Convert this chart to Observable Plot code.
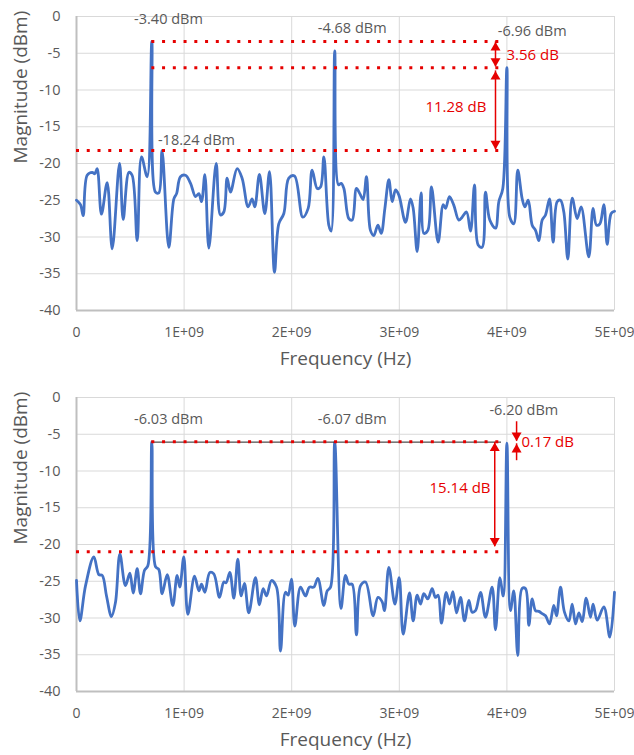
<!DOCTYPE html>
<html><head><meta charset="utf-8">
<script src="https://cdn.jsdelivr.net/npm/d3@7"></script>
<script src="https://cdn.jsdelivr.net/npm/@observablehq/plot@0.6"></script>
<style>
body{margin:0;background:#fff;}
#wrap{width:634px;height:755px;}
#wrap svg{display:block;}
</style></head><body><div id="wrap"></div>
<script>
// ---- axes ----
const xTicks = [0, 1e9, 2e9, 3e9, 4e9, 5e9];
const xTickLabels = ["0", "1E+09", "2E+09", "3E+09", "4E+09", "5E+09"];
const yTicks = [0, -5, -10, -15, -20, -25, -30, -35, -40];
const xTitle = "Frequency (Hz)";
const yTitle = "Magnitude (dBm)";

// ---- top panel spectrum (frequency in GHz, magnitude in dBm) ----
const topFreqGHz = [0,0.037,0.062,0.099,0.146,0.17,0.192,0.232,0.285,0.332,0.4,0.434,0.487,0.517,0.564,0.604,0.657,0.7,0.734,0.765,0.795,0.858,0.905,0.93,0.966,1.013,1.06,1.106,1.137,1.162,1.193,1.23,1.298,1.338,1.369,1.4,1.431,1.493,1.539,1.595,1.632,1.657,1.7,1.75,1.794,1.84,1.88,1.927,1.973,2.026,2.103,2.153,2.19,2.237,2.268,2.299,2.345,2.367,2.4,2.435,2.46,2.485,2.531,2.562,2.602,2.633,2.664,2.695,2.732,2.763,2.801,2.832,2.866,2.903,2.934,2.965,2.996,3.058,3.104,3.129,3.166,3.203,3.228,3.265,3.299,3.361,3.408,3.43,3.466,3.507,3.553,3.584,3.625,3.662,3.699,3.733,3.77,3.801,3.841,3.894,3.925,3.962,4.0,4.027,4.064,4.101,4.142,4.167,4.198,4.235,4.266,4.297,4.328,4.359,4.396,4.43,4.467,4.498,4.529,4.566,4.607,4.653,4.69,4.761,4.801,4.833,4.864,4.901,4.932,4.969,5.0];
const topDbm = [-25.0,-25.6,-27.1,-21.6,-21.2,-21.4,-20.7,-26.9,-22.6,-31.6,-20.0,-27.6,-21.2,-21.6,-30.5,-19.1,-21.8,-3.40,-23.9,-24.0,-18.24,-31.4,-24.8,-24.1,-21.8,-21.6,-22.7,-24.5,-24.1,-25.2,-21.5,-31.5,-20.0,-27.0,-26.6,-22.0,-23.9,-20.7,-22.0,-25.9,-24.8,-25.9,-21.5,-26.8,-21.1,-34.8,-28.2,-26.8,-22.0,-21.7,-27.3,-26.1,-20.9,-23.4,-23.2,-19.1,-28.4,-29.2,-4.68,-22.9,-22.7,-23.4,-27.5,-27.7,-23.4,-24.1,-24.9,-21.8,-29.1,-29.8,-28.4,-29.5,-26.1,-22.2,-25.2,-23.6,-24.3,-28.0,-24.8,-26.1,-32.0,-24.0,-29.5,-29.1,-23.2,-30.7,-25.6,-26.1,-24.5,-25.7,-27.7,-27.3,-26.6,-29.2,-22.9,-31.1,-31.4,-23.9,-27.7,-28.8,-25.2,-23.4,-6.96,-27.3,-28.2,-20.9,-24.8,-25.9,-25.0,-28.4,-29.1,-30.5,-27.7,-27.0,-24.8,-30.7,-25.2,-25.0,-26.6,-33.0,-24.7,-27.5,-25.9,-32.7,-26.1,-28.4,-28.2,-25.6,-31.0,-26.8,-26.5];

// ---- bottom panel spectrum ----
const botFreqGHz = [0,0.031,0.084,0.161,0.208,0.239,0.279,0.325,0.362,0.403,0.455,0.496,0.527,0.564,0.595,0.632,0.663,0.7,0.734,0.765,0.796,0.843,0.895,0.935,0.96,0.997,1.035,1.097,1.137,1.162,1.193,1.239,1.276,1.329,1.369,1.39,1.425,1.462,1.499,1.53,1.561,1.601,1.663,1.7,1.735,1.766,1.812,1.859,1.896,1.942,1.967,1.998,2.029,2.082,2.128,2.165,2.205,2.243,2.299,2.33,2.361,2.4,2.458,2.5,2.531,2.562,2.602,2.64,2.686,2.757,2.801,2.841,2.862,2.903,2.959,2.999,3.036,3.095,3.129,3.166,3.197,3.228,3.265,3.305,3.336,3.361,3.392,3.436,3.467,3.498,3.532,3.569,3.606,3.646,3.677,3.708,3.755,3.801,3.863,3.894,3.935,3.966,4.0,4.033,4.064,4.101,4.141,4.173,4.204,4.235,4.266,4.297,4.328,4.359,4.396,4.436,4.461,4.498,4.535,4.576,4.607,4.638,4.669,4.7,4.737,4.777,4.801,4.839,4.901,4.957,5.0];
const botDbm = [-24.9,-30.4,-25.6,-21.7,-24.1,-24.2,-27.0,-29.8,-27.9,-21.3,-25.6,-23.9,-26.6,-23.3,-26.7,-23.5,-22.9,-6.03,-23.0,-23.4,-26.7,-24.1,-28.3,-24.2,-25.8,-21.7,-29.5,-24.3,-26.3,-25.4,-26.5,-23.8,-24.0,-27.2,-25.1,-25.2,-23.8,-27.3,-22.0,-27.0,-25.3,-29.3,-24.5,-28.2,-26.0,-27.0,-24.9,-25.8,-34.5,-26.5,-26.9,-24.7,-31.1,-25.8,-27.0,-25.8,-25.8,-24.6,-28.3,-26.3,-25.8,-6.07,-28.7,-24.2,-25.4,-25.4,-32.3,-25.6,-25.1,-29.7,-27.2,-27.8,-29.0,-23.1,-28.1,-24.5,-32.2,-26.6,-30.4,-26.9,-28.1,-26.7,-27.4,-26.0,-27.2,-26.9,-30.7,-26.5,-28.1,-26.4,-29.3,-27.2,-30.4,-27.6,-29.2,-29.0,-26.5,-29.9,-25.8,-31.6,-24.5,-27.0,-6.20,-29.0,-26.3,-35.1,-26.0,-26.0,-31.0,-27.4,-29.0,-29.1,-29.4,-29.7,-30.8,-28.3,-29.7,-25.8,-29.2,-30.4,-28.1,-30.8,-29.3,-30.5,-27.3,-29.9,-28.1,-30.3,-28.5,-32.6,-26.5];

// ---- annotations: reference levels (dBm, from GHz, to GHz) ----
const topLevelDbm = [-3.40, -6.96, -18.24];
const topLevelFromGHz = [0.7, 0.7, 0];
const topLevelToGHz = [3.94, 3.94, 3.94];
const botLevelDbm = [-6.03, -21.0];
const botLevelFromGHz = [0.7, 0];
const botLevelToGHz = [3.94, 3.94];
const botSolidDbm = -6.07;            // thin black line under the dotted one
const botSolidGHz = [0.7, 3.95];

// peak labels
const topPeakText = ["-3.40 dBm", "-4.68 dBm", "-6.96 dBm", "-18.24 dBm"];
const topPeakGHz = [0.855, 2.562, 4.235, 1.115];
const topPeakDbm = [-0.4, -1.6, -2.05, -16.9];
const botPeakText = ["-6.03 dBm", "-6.07 dBm", "-6.20 dBm"];
const botPeakGHz = [0.855, 2.562, 4.157];
const botPeakDbm = [-3.0, -3.0, -1.75];

// difference arrows: [GHz, from dBm, to dBm] with heads at both ends
const topArrowGHz = [3.894, 3.894];
const topArrowFrom = [-3.45, -7.4];
const topArrowTo = [-6.85, -18.1];
const botArrowGHz = [3.887];
const botArrowFrom = [-6.1];
const botArrowTo = [-20.3];
// inward pointing arrows (0.17 dB)
const botInGHz = 4.09;
const botInDown = [-3.3, -5.95];
const botInUp = [-8.6, -6.3];

// difference labels
const topDiffText = ["3.56 dB", "11.28 dB"];
const topDiffGHz = [3.996, 3.81];
const topDiffDbm = [-5.2, -12.4];
const topDiffAnchor = ["start", "end"];
const botDiffText = ["15.14 dB", "0.17 dB"];
const botDiffGHz = [3.848, 4.136];
const botDiffDbm = [-12.4, -6.05];
const botDiffAnchor = ["end", "start"];

const RED = "#e60000";
const GRAY = "#595959";
const BLUE = "#4472c4";

function panel(cfg) {
  const series = cfg.freq.map((f, i) => ({f: f * 1e9, v: cfg.dbm[i]}));
  const levels = cfg.levels.map((y, i) => ({y, x1: cfg.from[i] * 1e9, x2: cfg.to[i] * 1e9}));
  const peaks = cfg.peakText.map((t, i) => ({t, x: cfg.peakGHz[i] * 1e9, y: cfg.peakDbm[i]}));
  const diffs = cfg.diffText.map((t, i) => ({t, x: cfg.diffGHz[i] * 1e9, y: cfg.diffDbm[i], a: cfg.diffAnchor[i]}));
  const rules = [];
  const ups = [];
  const downs = [];
  cfg.arrowGHz.forEach((g, i) => {
    rules.push({x: g * 1e9, y1: cfg.arrowFrom[i], y2: cfg.arrowTo[i]});
    ups.push({x: g * 1e9, y: cfg.arrowFrom[i]});
    downs.push({x: g * 1e9, y: cfg.arrowTo[i]});
  });
  if (cfg.inGHz != null) {
    rules.push({x: cfg.inGHz * 1e9, y1: cfg.inDown[0], y2: cfg.inDown[1]});
    downs.push({x: cfg.inGHz * 1e9, y: cfg.inDown[1]});
    rules.push({x: cfg.inGHz * 1e9, y1: cfg.inUp[0], y2: cfg.inUp[1]});
    ups.push({x: cfg.inGHz * 1e9, y: cfg.inUp[1]});
  }
  const marks = [
    Plot.gridX(xTicks, {stroke: "#d9d9d9", strokeOpacity: 1, strokeWidth: 1}),
    Plot.gridY(yTicks, {stroke: "#d9d9d9", strokeOpacity: 1, strokeWidth: 1}),
    Plot.ruleX([0], {stroke: "#bfbfbf", strokeWidth: 2}),
    Plot.ruleY([-40], {stroke: "#bfbfbf", strokeWidth: 2}),
    Plot.axisX({ticks: xTicks, tickSize: 0, tickPadding: 17, label: null, fontSize: 14,
      tickFormat: d => xTickLabels[xTicks.indexOf(d)]}),
    Plot.axisY({ticks: yTicks, tickSize: 0, tickPadding: 16, label: null, fontSize: 14.5,
      tickFormat: d => String(d)}),
    Plot.text([yTitle], {text: d => d, frameAnchor: "left", rotate: -90, dx: -56, fontSize: 19, fill: GRAY}),
    Plot.text([xTitle], {text: d => d, frameAnchor: "bottom", dy: 54, fontSize: 19, fill: GRAY}),
    Plot.line(series, {x: "f", y: "v", stroke: BLUE, strokeWidth: 2.8, curve: "catmull-rom"})
  ];
  if (cfg.solid) {
    marks.push(Plot.ruleY([cfg.solid.y], {x1: cfg.solid.x[0] * 1e9, x2: cfg.solid.x[1] * 1e9, stroke: "#222", strokeWidth: 1}));
  }
  marks.push(
    Plot.ruleY(levels, {y: "y", x1: "x1", x2: "x2", stroke: RED, strokeWidth: 3, strokeDasharray: "3,7.75"}),
    Plot.ruleX(rules, {x: "x", y1: "y1", y2: "y2", stroke: RED, strokeWidth: 1.5}),
    Plot.dot(ups, {x: "x", y: "y", symbol: "triangle", r: 3.7, fill: RED, stroke: null, dy: 5.8}),
    Plot.dot(downs, {x: "x", y: "y", symbol: "triangle", r: 3.7, fill: RED, stroke: null, rotate: 180, dy: -5.8}),
    Plot.text(peaks, {x: "x", y: "y", text: "t", fill: GRAY, fontSize: 14.5}),
    Plot.text(diffs.filter(d => d.a === "start"), {x: "x", y: "y", text: "t", textAnchor: "start", fill: RED, fontSize: 15}),
    Plot.text(diffs.filter(d => d.a === "end"), {x: "x", y: "y", text: "t", textAnchor: "end", fill: RED, fontSize: 15})
  );
  return Plot.plot({
    width: 634,
    height: cfg.height,
    marginLeft: 76,
    marginRight: 20,
    marginTop: cfg.mt,
    marginBottom: cfg.mb,
    x: {type: "linear", domain: [0, 5e9]},
    y: {type: "linear", domain: [-40, 0]},
    style: {fontFamily: "'Open Sans', sans-serif", fontSize: "14px", color: GRAY, background: "#fff"},
    marks
  });
}

const wrap = document.getElementById("wrap");
wrap.appendChild(panel({
  height: 377, mt: 16, mb: 67,
  freq: topFreqGHz, dbm: topDbm,
  levels: topLevelDbm, from: topLevelFromGHz, to: topLevelToGHz,
  peakText: topPeakText, peakGHz: topPeakGHz, peakDbm: topPeakDbm,
  diffText: topDiffText, diffGHz: topDiffGHz, diffDbm: topDiffDbm, diffAnchor: topDiffAnchor,
  arrowGHz: topArrowGHz, arrowFrom: topArrowFrom, arrowTo: topArrowTo
}));
wrap.appendChild(panel({
  height: 378, mt: 20, mb: 64,
  freq: botFreqGHz, dbm: botDbm,
  levels: botLevelDbm, from: botLevelFromGHz, to: botLevelToGHz,
  solid: {y: botSolidDbm, x: botSolidGHz},
  peakText: botPeakText, peakGHz: botPeakGHz, peakDbm: botPeakDbm,
  diffText: botDiffText, diffGHz: botDiffGHz, diffDbm: botDiffDbm, diffAnchor: botDiffAnchor,
  arrowGHz: botArrowGHz, arrowFrom: botArrowFrom, arrowTo: botArrowTo,
  inGHz: botInGHz, inDown: botInDown, inUp: botInUp
}));
</script></body></html>
